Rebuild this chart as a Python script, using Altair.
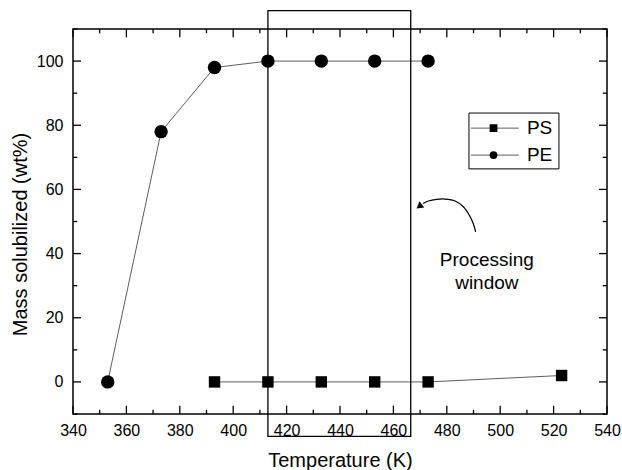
import altair as alt
import pandas as pd

# ---- data ----
pe_temp = [353, 373, 393, 413, 433, 453, 473]
pe_mass = [0, 78, 98, 100, 100, 100, 100]
ps_temp = [393, 413, 433, 453, 473, 523]
ps_mass = [0, 0, 0, 0, 0, 2]

x_major = list(range(340, 541, 20))
x_minor = list(range(350, 540, 20))
y_major = list(range(0, 101, 20))
y_minor = list(range(-10, 111, 20))

# processing window box (data units)
win_x = [413, 466.5]
win_y = [-17, 115.7]

# annotation
note_lines = ["Processing", "window"]
note_x = [495, 495]
note_y = [38, 30.8]
arc_x = [490.8, 489.9, 488.4, 486.2, 483.1, 479.3, 476.2, 473.1, 471.1]
arc_y = [46.8, 49.4, 52.0, 54.6, 56.4, 57.0, 56.9, 56.4, 55.6]
head_x = [470.0]
head_y = [54.9]

# legend
leg_names = ["PS", "PE"]
leg_shapes = ["square", "circle"]
leg_y = [79.1, 70.7]
leg_box_x = [488.3, 522.0]
leg_box_y = [66.4, 83.8]
leg_line_x = [489.0, 507.0]
leg_mark_x = 497.5
leg_text_x = 510.0

FONT = "Liberation Sans"

xs = alt.Scale(domain=[340, 540], nice=False, zero=False)
ys = alt.Scale(domain=[-10, 110], nice=False, zero=False)

df = pd.DataFrame(
    {"T": pe_temp + ps_temp,
     "M": pe_mass + ps_mass,
     "s": ["PE"] * len(pe_temp) + ["PS"] * len(ps_temp)}
)

xaxis = alt.Axis(values=x_major, tickSize=0, domain=False, grid=False,
                 labelFont=FONT, labelFontSize=16, labelColor="black",
                 labelFlush=False, labelOverlap=False,
                 labelPadding=8, title="Temperature (K)", titleFont=FONT,
                 titleFontSize=20, titleFontWeight="normal", titleColor="black",
                 titlePadding=12)
yaxis = alt.Axis(values=y_major, tickSize=0, domain=False, grid=False,
                 labelFont=FONT, labelFontSize=16, labelColor="black",
                 labelFlush=False, labelOverlap=False,
                 labelPadding=10, title="Mass solubilized (wt%)", titleFont=FONT,
                 titleFontSize=20, titleFontWeight="normal", titleColor="black",
                 titlePadding=6, titleY=205)

lines = alt.Chart(df).mark_line(color="#333333", strokeWidth=0.8).encode(
    x=alt.X("T:Q", scale=xs, axis=xaxis),
    y=alt.Y("M:Q", scale=ys, axis=yaxis),
    detail="s:N",
)

pts_pe = alt.Chart(pd.DataFrame({"T": pe_temp, "M": pe_mass})).mark_point(
    shape="circle", filled=True, color="black", size=180, opacity=1
).encode(x=alt.X("T:Q", scale=xs), y=alt.Y("M:Q", scale=ys))

pts_ps = alt.Chart(pd.DataFrame({"T": ps_temp, "M": ps_mass})).mark_point(
    shape="square", filled=True, color="black", size=130, opacity=1
).encode(x=alt.X("T:Q", scale=xs), y=alt.Y("M:Q", scale=ys))

# inward ticks
xt_rows = []
for v in x_major + x_minor:
    L = 2.6 if v in x_major else 1.3
    xt_rows.append({"x": v, "y": -10, "y2": -10 + L})
    xt_rows.append({"x": v, "y": 110, "y2": 110 - L})
yt_rows = []
for v in y_major + y_minor:
    L = 3.0 if v in y_major else 1.6
    yt_rows.append({"y": v, "x": 340, "x2": 340 + L})
    yt_rows.append({"y": v, "x": 540, "x2": 540 - L})

xticks = alt.Chart(pd.DataFrame(xt_rows)).mark_rule(color="black", strokeWidth=1.3).encode(
    x=alt.X("x:Q", scale=xs), y=alt.Y("y:Q", scale=ys), y2="y2:Q")
yticks = alt.Chart(pd.DataFrame(yt_rows)).mark_rule(color="black", strokeWidth=1.3).encode(
    y=alt.Y("y:Q", scale=ys), x=alt.X("x:Q", scale=xs), x2="x2:Q")

window = alt.Chart(pd.DataFrame({"x": [win_x[0]], "x2": [win_x[1]],
                                 "y": [win_y[0]], "y2": [win_y[1]]})).mark_rect(
    fillOpacity=0, stroke="black", strokeWidth=1.3, clip=False
).encode(x=alt.X("x:Q", scale=xs), x2="x2:Q", y=alt.Y("y:Q", scale=ys), y2="y2:Q")

note = alt.Chart(pd.DataFrame({"x": note_x, "y": note_y, "t": note_lines})).mark_text(
    font=FONT, fontSize=19, color="black", align="center", baseline="middle"
).encode(x=alt.X("x:Q", scale=xs), y=alt.Y("y:Q", scale=ys), text="t:N")

arc = alt.Chart(pd.DataFrame({"x": arc_x, "y": arc_y, "o": list(range(len(arc_x)))})).mark_line(
    color="black", strokeWidth=1.2, interpolate="cardinal"
).encode(x=alt.X("x:Q", scale=xs), y=alt.Y("y:Q", scale=ys), order="o:Q")

head = alt.Chart(pd.DataFrame({"x": head_x, "y": head_y})).mark_point(
    shape="triangle", filled=True, color="black", size=60, angle=232, opacity=1
).encode(x=alt.X("x:Q", scale=xs), y=alt.Y("y:Q", scale=ys))

# legend
leg_box = alt.Chart(pd.DataFrame({"x": [leg_box_x[0]], "x2": [leg_box_x[1]],
                                  "y": [leg_box_y[0]], "y2": [leg_box_y[1]]})).mark_rect(
    fillOpacity=0, stroke="black", strokeWidth=1
).encode(x=alt.X("x:Q", scale=xs), x2="x2:Q", y=alt.Y("y:Q", scale=ys), y2="y2:Q")

leg_df = pd.DataFrame({"n": leg_names, "sh": leg_shapes, "y": leg_y,
                       "x": [leg_line_x[0]] * 2, "x2": [leg_line_x[1]] * 2,
                       "mx": [leg_mark_x] * 2, "tx": [leg_text_x] * 2})
leg_lines = alt.Chart(leg_df).mark_rule(color="#333333", strokeWidth=0.8).encode(
    x=alt.X("x:Q", scale=xs), x2="x2:Q", y=alt.Y("y:Q", scale=ys))
leg_pts = alt.Chart(leg_df).mark_point(filled=True, color="black", size=60, opacity=1).encode(
    x=alt.X("mx:Q", scale=xs), y=alt.Y("y:Q", scale=ys),
    shape=alt.Shape("sh:N", scale=None, legend=None))
leg_text = alt.Chart(leg_df).mark_text(font=FONT, fontSize=19, color="black",
                                       align="left", baseline="middle").encode(
    x=alt.X("tx:Q", scale=xs), y=alt.Y("y:Q", scale=ys), text="n:N")

chart = alt.layer(
    lines, pts_pe, pts_ps, xticks, yticks, window, note, arc, head,
    leg_box, leg_lines, leg_pts, leg_text
).properties(
    width=534, height=385,
    autosize=alt.AutoSizeParams(type="none"),
    padding={"left": 73, "top": 29, "right": 15, "bottom": 56},
    background="white",
).configure_view(stroke="black", strokeWidth=1.5)

chart.save("out.html", embed_options={"renderer": "svg", "actions": False})
